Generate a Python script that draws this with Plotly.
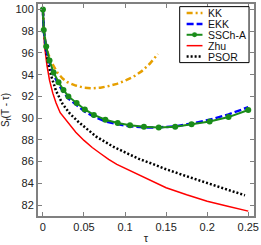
import plotly.graph_objects as go

# ---- data ----
names = ["KK", "EKK", "SSCh-A", "Zhu", "PSOR"]

kk_tau = [0, 0.001, 0.003, 0.006, 0.01, 0.014, 0.018, 0.024, 0.03, 0.04, 0.05,
          0.06, 0.07, 0.08, 0.09, 0.1, 0.11, 0.12, 0.13, 0.14]
kk_val = [100, 98.2, 97.0, 96.0, 95.2, 94.6, 94.15, 93.65, 93.3, 93.0, 92.8,
          92.75, 92.8, 92.95, 93.15, 93.45, 93.8, 94.3, 95.0, 95.9]

ssch_tau = [0, 0.001, 0.004, 0.008, 0.013, 0.019, 0.025, 0.031, 0.041, 0.051,
            0.062, 0.076, 0.091, 0.106, 0.123, 0.141, 0.161, 0.181, 0.203,
            0.226, 0.25]
ssch_val = [100, 98.1, 96.6, 95.3, 94.2, 93.3, 92.6, 92.0, 91.4, 90.8,
            90.3, 89.85, 89.55, 89.35, 89.2, 89.15, 89.2, 89.45, 89.7,
            90.1, 90.75]

ekk_tau = ssch_tau
ekk_val = [100, 98.0, 96.4, 95.1, 94.0, 93.1, 92.4, 91.8, 91.2, 90.6,
           90.15, 89.7, 89.45, 89.25, 89.15, 89.15, 89.25, 89.5, 89.85,
           90.35, 91.0]

zhu_tau = [0, 0.0005, 0.002, 0.005, 0.008, 0.012, 0.016, 0.021, 0.029, 0.04,
           0.05, 0.06, 0.07, 0.08, 0.09, 0.105, 0.12, 0.135, 0.15, 0.175,
           0.2, 0.225, 0.25]
zhu_val = [100, 98.5, 96.6, 94.8, 93.5, 92.3, 91.4, 90.5, 89.7, 88.7,
           87.95, 87.3, 86.75, 86.2, 85.75, 85.2, 84.7, 84.1, 83.6, 82.95,
           82.35, 81.9, 81.45]

psor_tau = [0, 0.001, 0.003, 0.006, 0.01, 0.016, 0.024, 0.033, 0.044, 0.055,
            0.065, 0.075, 0.085, 0.1, 0.117, 0.135, 0.15, 0.175, 0.2, 0.225,
            0.246]
psor_val = [100, 98.1, 96.7, 95.2, 93.9, 92.5, 91.3, 90.4, 89.6, 88.9,
            88.3, 87.85, 87.4, 86.85, 86.25, 85.75, 85.3, 84.65, 84.05, 83.45,
            82.9]

x_ticks = [0, 0.05, 0.1, 0.15, 0.2, 0.25]
x_ticklabels = ["0", "0.05", "0.1", "0.15", "0.2", "0.25"]
y_ticks = [82, 84, 86, 88, 90, 92, 94, 96, 98, 100]
y_ticklabels = [str(v) for v in y_ticks]

colors = ["#E69F00", "#0000FF", "#1A8C1A", "#FF0000", "#000000"]
dashes = ["6px,3px,2px,3px", "7px,3px", "solid", "solid", "2px,2px"]
widths = [2.5, 2.5, 2, 1.5, 2.5]

series = [(kk_tau, kk_val), (ekk_tau, ekk_val), (ssch_tau, ssch_val),
          (zhu_tau, zhu_val), (psor_tau, psor_val)]

fig = go.Figure()
draw_order = [3, 4, 0, 1, 2]
for i in draw_order:
    t, v = series[i]
    mode = "lines+markers" if names[i] == "SSCh-A" else "lines"
    fig.add_trace(go.Scatter(
        x=t, y=v, name=names[i], mode=mode,
        line=dict(color=colors[i], width=widths[i], dash=dashes[i]),
        marker=dict(size=6, color=colors[i]),
        showlegend=False,
    ))

W, H = 261, 245
ml, mr, mt, mb = 38, 5, 2, 26
pw, ph = W - ml - mr, H - mt - mb

def px_x(p):
    return (p - ml) / pw

def px_y(p):
    return (H - mb - p) / ph

# manual compact legend
shapes = [dict(type="rect", xref="paper", yref="paper",
               x0=px_x(181), x1=px_x(251), y0=px_y(62), y1=px_y(4.7),
               line=dict(color="black", width=1), fillcolor="white", layer="above")]
annotations = []
for k, nm in enumerate(names):
    yy = 11.2 + k * 11.15
    shapes.append(dict(type="line", xref="paper", yref="paper",
                       x0=px_x(188), x1=px_x(204), y0=px_y(yy), y1=px_y(yy),
                       line=dict(color=colors[k], width=widths[k], dash=dashes[k]),
                       layer="above"))
    if nm == "SSCh-A":
        shapes.append(dict(type="circle", xref="paper", yref="paper",
                           x0=px_x(193.5), x1=px_x(198.5), y0=px_y(yy + 2.5), y1=px_y(yy - 2.5),
                           line=dict(color=colors[k], width=0), fillcolor=colors[k],
                           layer="above"))
    annotations.append(dict(text=nm, xref="paper", yref="paper",
                            x=px_x(208.5), y=px_y(yy), xanchor="left", yanchor="middle",
                            showarrow=False, borderpad=0,
                            font=dict(size=10.5, color="#111")))

axis_common = dict(showline=True, linecolor="#808080", linewidth=2, mirror="allticks",
                   ticks="inside", ticklen=4, tickcolor="#808080", tickwidth=1,
                   showgrid=False, zeroline=False,
                   tickfont=dict(size=11, color="#222", family="Liberation Sans"))

fig.update_layout(
    width=W, height=H,
    margin=dict(l=ml, r=mr, t=mt, b=mb),
    paper_bgcolor="white", plot_bgcolor="white",
    font=dict(family="Liberation Sans", size=11, color="#222"),
    xaxis=dict(range=[-0.006, 0.257], tickvals=x_ticks, ticktext=x_ticklabels,
               title=dict(text="τ", font=dict(size=11), standoff=2), **axis_common),
    yaxis=dict(range=[81.0, 100.5], tickvals=y_ticks, ticktext=y_ticklabels,
               title=dict(text="S<sub>f</sub>(T - τ)", font=dict(size=10), standoff=4),
               **axis_common),
    shapes=shapes, annotations=annotations,
    showlegend=False,
)

fig.write_html("out.html", config={"displayModeBar": False},
               post_script="document.body.style.margin='0';document.body.style.overflow='hidden';")
